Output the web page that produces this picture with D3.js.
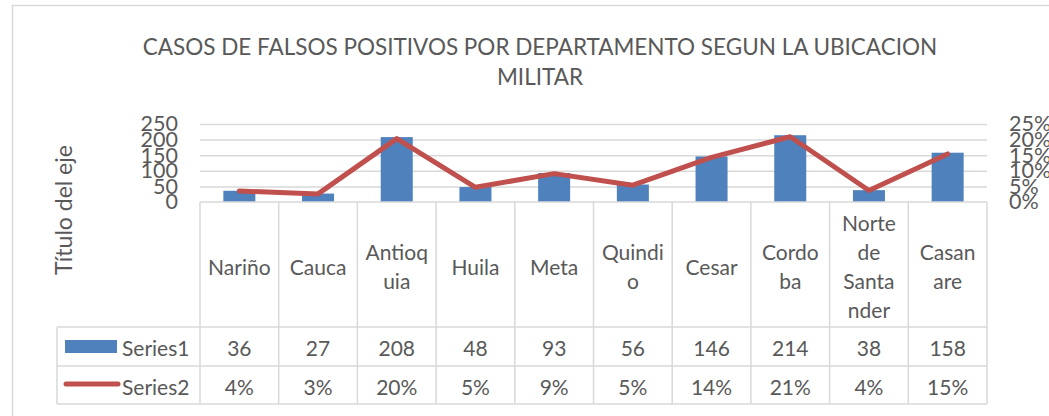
<!DOCTYPE html>
<html lang="es">
<head>
<meta charset="UTF-8">
<title>Casos de falsos positivos</title>
<style>
  body { margin: 0; background: #fff; }
  text { font-family: Lato, "Open Sans", sans-serif; fill: #595959; }
</style>
</head>
<body>
<script src="https://cdn.jsdelivr.net/npm/d3@7"></script>
<script>
// datos
var departamentos = ['Nariño', 'Cauca', 'Antioquia', 'Huila', 'Meta', 'Quindio', 'Cesar', 'Cordoba', 'Norte de Santander', 'Casanare'];
var lineasEtiqueta = [['Nariño'], ['Cauca'], ['Antioq', 'uia'], ['Huila'], ['Meta'], ['Quindi', 'o'], ['Cesar'], ['Cordo', 'ba'], ['Norte', 'de', 'Santa', 'nder'], ['Casan', 'are']];
var series1 = [36, 27, 208, 48, 93, 56, 146, 214, 38, 158];
var series2 = [0.035, 0.026, 0.203, 0.047, 0.091, 0.054, 0.143, 0.209, 0.037, 0.154];
var ticksIzq = [0, 50, 100, 150, 200, 250];
var ticksDer = [0, 0.05, 0.10, 0.15, 0.20, 0.25];
var titulo = ['CASOS DE FALSOS POSITIVOS POR DEPARTAMENTO SEGUN LA UBICACION', 'MILITAR'];

var W = 1049, H = 416;
var izq = 200, der = 987, cero = 202, tope = 124;
var filas = [202, 327, 366, 404];   // limites de la tabla
var colLeyenda = 57;
var gris = '#D9D9D9';
var tamTexto = '21px';

var svg = d3.select('body').append('svg').attr('width', W).attr('height', H);

// borde del grafico
svg.append('rect').attr('x', 12.5).attr('y', 5.5).attr('width', 1060).attr('height', 440)
  .attr('fill', 'none').attr('stroke', gris).attr('stroke-width', 1.5);

// titulo
svg.append('text').attr('text-anchor', 'middle').style('font-size', '22.5px')
  .selectAll('tspan').data(titulo).join('tspan')
  .attr('x', 540).attr('y', function (d, i) { return 55 + i * 30; })
  .text(function (d) { return d; });

var x = d3.scaleBand().domain(departamentos).range([izq, der]);
var y = d3.scaleLinear().domain([0, 250]).range([cero, tope]);
var y2 = d3.scaleLinear().domain([0, 0.25]).range([cero, tope]);

// lineas de cuadricula
svg.append('g').attr('transform', 'translate(' + izq + ',0)')
  .call(d3.axisLeft(y).tickValues(ticksIzq.slice(1)).tickSize(-(der - izq)).tickFormat(''))
  .call(function (g) {
    g.select('.domain').remove();
    g.selectAll('line').attr('stroke', gris).attr('stroke-width', 1.5);
  });

// eje izquierdo
svg.append('g').attr('transform', 'translate(178,0)')
  .call(d3.axisLeft(y).tickValues(ticksIzq).tickSize(0).tickPadding(0))
  .call(function (g) {
    g.select('.domain').remove();
    g.selectAll('text').style('font-size', '21.5px').attr('fill', '#595959').style('font-family', 'Lato, sans-serif');
  });

// eje derecho
svg.append('g').attr('transform', 'translate(1009,0)')
  .call(d3.axisRight(y2).tickValues(ticksDer).tickSize(0).tickPadding(0).tickFormat(d3.format('.0%')))
  .call(function (g) {
    g.select('.domain').remove();
    g.selectAll('text').style('font-size', '21.5px').attr('fill', '#595959').style('font-family', 'Lato, sans-serif');
  });

// titulo del eje
svg.append('text').attr('transform', 'translate(72,210) rotate(-90)')
  .attr('text-anchor', 'middle').style('font-size', '23px').text('Título del eje');

// barras
var anchoBarra = 32;
svg.append('g').selectAll('rect').data(series1).join('rect')
  .attr('x', function (d, i) { return x(departamentos[i]) + x.bandwidth() / 2 - anchoBarra / 2; })
  .attr('y', function (d) { return y(d); })
  .attr('width', anchoBarra)
  .attr('height', function (d) { return cero - y(d); })
  .attr('fill', '#4F81BD');

// linea
var linea = d3.line()
  .x(function (d, i) { return x(departamentos[i]) + x.bandwidth() / 2; })
  .y(function (d) { return y2(d); });
svg.append('path').datum(series2).attr('d', linea)
  .attr('fill', 'none').attr('stroke', '#C0504D').attr('stroke-width', 5)
  .attr('stroke-linejoin', 'round').attr('stroke-linecap', 'round');

// tabla de datos
var tabla = svg.append('g').attr('stroke', gris).attr('stroke-width', 1.5);
tabla.append('line').attr('x1', izq).attr('x2', der).attr('y1', filas[0]).attr('y2', filas[0]);
filas.slice(1).forEach(function (f) {
  tabla.append('line').attr('x1', colLeyenda).attr('x2', der).attr('y1', f).attr('y2', f);
});
tabla.append('line').attr('x1', colLeyenda).attr('x2', colLeyenda).attr('y1', filas[1]).attr('y2', filas[3]);
x.domain().concat(['fin']).forEach(function (d, i) {
  var xx = i < departamentos.length ? x(d) : der;
  tabla.append('line').attr('x1', xx).attr('x2', xx).attr('y1', filas[0]).attr('y2', filas[3]);
});

// categorias
var centroEnc = (filas[0] + filas[1]) / 2;
var interlinea = 29;
departamentos.forEach(function (d, i) {
  var lineas = lineasEtiqueta[i];
  var t = svg.append('text').attr('text-anchor', 'middle').attr('dominant-baseline', 'central').style('font-size', tamTexto);
  lineas.forEach(function (l, j) {
    t.append('tspan').attr('x', x(d) + x.bandwidth() / 2)
      .attr('y', centroEnc + 1 + (j - (lineas.length - 1) / 2) * interlinea).text(l);
  });
});

// valores
var fmtPct = d3.format('.0%');
svg.append('g').selectAll('text').data(series1).join('text')
  .attr('x', function (d, i) { return x(departamentos[i]) + x.bandwidth() / 2; })
  .attr('y', (filas[1] + filas[2]) / 2 + 1)
  .attr('text-anchor', 'middle').attr('dominant-baseline', 'central').style('font-size', tamTexto)
  .text(function (d) { return d; });
svg.append('g').selectAll('text').data(series2).join('text')
  .attr('x', function (d, i) { return x(departamentos[i]) + x.bandwidth() / 2; })
  .attr('y', (filas[2] + filas[3]) / 2 + 1)
  .attr('text-anchor', 'middle').attr('dominant-baseline', 'central').style('font-size', tamTexto)
  .text(function (d) { return fmtPct(d); });

// leyenda
svg.append('rect').attr('x', 65).attr('y', 340).attr('width', 52).attr('height', 13).attr('fill', '#4F81BD');
svg.append('line').attr('x1', 66).attr('x2', 118).attr('y1', 384).attr('y2', 384)
  .attr('stroke', '#C0504D').attr('stroke-width', 5).attr('stroke-linecap', 'round');
svg.append('text').attr('x', 122).attr('y', (filas[1] + filas[2]) / 2 + 1).attr('dominant-baseline', 'central')
  .style('font-size', tamTexto).text('Series1');
svg.append('text').attr('x', 122).attr('y', (filas[2] + filas[3]) / 2 + 1).attr('dominant-baseline', 'central')
  .style('font-size', tamTexto).text('Series2');
</script>
</body>
</html>
